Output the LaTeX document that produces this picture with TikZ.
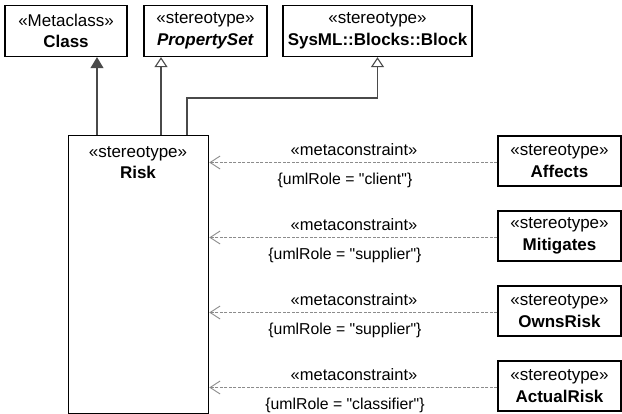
\documentclass[tikz,border=0pt]{standalone}
\usepackage{fontspec}
\setmainfont{Liberation Sans}
\usetikzlibrary{arrows.meta}
\definecolor{linegray}{HTML}{4A4A4A}
\definecolor{dashgray}{HTML}{8C8C8C}
\tikzset{
  umlbox/.style={draw=black, line width=1.3pt, fill=white, align=center, inner sep=0pt,
    font=\fontsize{17}{21.5}\selectfont},
  txt/.style={inner sep=0pt, font=\fontsize{16.5}{19}\selectfont},
  roletxt/.style={inner sep=0pt, font=\fontsize{15.8}{19}\selectfont},
  ext/.style={draw=linegray, line width=1.1pt, -{Triangle[width=13pt,length=11pt,fill=linegray]}},
  gen/.style={draw=linegray, line width=1.1pt, -{Triangle[open,width=13pt,length=10pt,fill=white]}},
  meta/.style={draw=dashgray, line width=0.9pt, dash pattern=on 3pt off 1.5pt,
    -{Straight Barb[length=10pt,width=13pt,line width=0.9pt]}},
}
\begin{document}
\begin{tikzpicture}[x=1pt,y=1pt]
\useasboundingbox (0,0) rectangle (622,-414);
% top boxes
\node[umlbox, minimum width=122pt, minimum height=51pt] (cls) at (66,-31)
  {\guillemotleft Metaclass\guillemotright\\\textbf{Class}};
\node[umlbox, minimum width=123pt, minimum height=51pt] (pset) at (205.5,-31)
  {\guillemotleft stereotype\guillemotright\\\textbf{\textit{PropertySet}}};
\node[umlbox, minimum width=189pt, minimum height=51pt] (block) at (377.5,-31)
  {\guillemotleft stereotype\guillemotright\\\textbf{SysML::Blocks::Block}};
% Risk
\node[umlbox, minimum width=140pt, minimum height=278pt, anchor=north west] (risk) at (68,-135) {};
\node[txt, align=center, font=\fontsize{17}{21}\selectfont] (risktitle) at (138,-163)
  {\guillemotleft stereotype\guillemotright\\\textbf{Risk}};
% right boxes
\node[umlbox, minimum width=123pt, minimum height=50pt] (affects) at (559.5,-161)
  {\guillemotleft stereotype\guillemotright\\\textbf{Affects}};
\node[umlbox, minimum width=123pt, minimum height=50pt] (mitig) at (559.5,-236)
  {\guillemotleft stereotype\guillemotright\\\textbf{Mitigates}};
\node[umlbox, minimum width=123pt, minimum height=50pt] (owns) at (559.5,-311)
  {\guillemotleft stereotype\guillemotright\\\textbf{OwnsRisk}};
\node[umlbox, minimum width=123pt, minimum height=50pt] (actual) at (559.5,-386)
  {\guillemotleft stereotype\guillemotright\\\textbf{ActualRisk}};
% generalizations / extension
\coordinate (kb) at (block.south |- 0,-98);
\draw[ext] ([xshift=29pt]risk.north west) -- ([xshift=29pt]risk.north west |- cls.south);
\draw[gen] ([xshift=93pt]risk.north west) -- ([xshift=93pt]risk.north west |- pset.south);
\draw[gen] ([xshift=119pt]risk.north west) |- (kb) -- (block.south);
% metaconstraints
\foreach \n/\r/\y in {affects/client/161, mitig/supplier/236, owns/supplier/311, actual/classifier/386}{
  \draw[meta] ([yshift=-1.5pt]\n.west) -- ([yshift=-1.5pt]\n.west -| risk.east);
  \node[txt] (mc\n) at (354,-\y+11) {\guillemotleft metaconstraint\guillemotright};
  \node[roletxt] (role\n) at (345,-\y-19) {\{umlRole = \textquotedbl\r\textquotedbl\}};
}
\end{tikzpicture}
\end{document}
